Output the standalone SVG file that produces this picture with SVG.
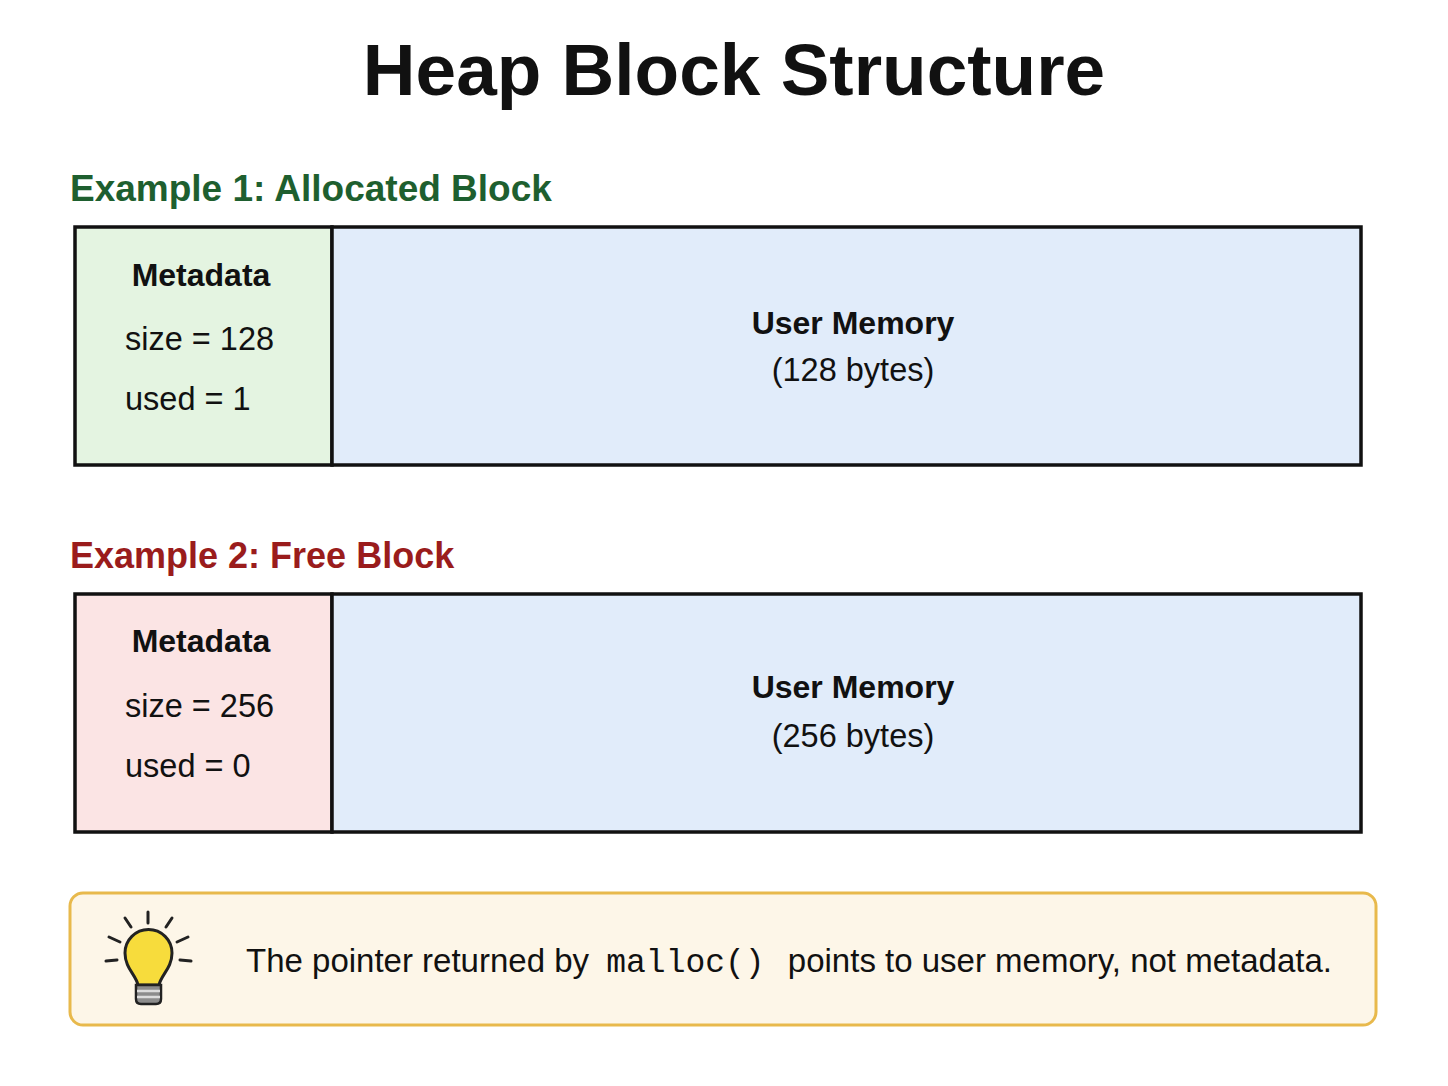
<svg xmlns="http://www.w3.org/2000/svg" width="1448" height="1086" viewBox="0 0 1448 1086">
<style>
text { font-family: "Liberation Sans", Arial, sans-serif; fill: #111; }
.title { font-size: 73px; font-weight: bold; }
.h { font-size: 36px; font-weight: bold; }
.b { font-size: 32px; font-weight: bold; }
.r { font-size: 32.5px; }
.note { font-size: 33px; }
.mono { font-family: "Liberation Mono", "Courier New", monospace; font-size: 33px; }
.box { stroke: #111; stroke-width: 3.5; }
.ray { stroke: #222; stroke-width: 3; stroke-linecap: round; }
</style>
<rect width="1448" height="1086" fill="#ffffff"/>
<text class="title" x="734" y="95" text-anchor="middle">Heap Block Structure</text>

<g id="example1">
<text class="h" x="70" y="201" style="fill:#1e5f2f;font-size:37px">Example 1: Allocated Block</text>
<g id="meta1">
<rect class="box" x="75" y="227" width="257" height="238" fill="#e4f4e1"/>
<text class="b" x="201" y="286" text-anchor="middle">Metadata</text>
<text class="r" x="125" y="350">size = 128</text>
<text class="r" x="125" y="410">used = 1</text>
</g>
<g id="user1">
<rect class="box" x="332" y="227" width="1029" height="238" fill="#e1ecfa"/>
<text class="b" x="853" y="334" text-anchor="middle">User Memory</text>
<text class="r" x="853" y="381" text-anchor="middle">(128 bytes)</text>
</g>
</g>

<g id="example2">
<text class="h" x="70" y="568" style="fill:#9a1c1c">Example 2: Free Block</text>
<g id="meta2">
<rect class="box" x="75" y="594" width="257" height="238" fill="#fbe4e4"/>
<text class="b" x="201" y="652" text-anchor="middle">Metadata</text>
<text class="r" x="125" y="717">size = 256</text>
<text class="r" x="125" y="777">used = 0</text>
</g>
<g id="user2">
<rect class="box" x="332" y="594" width="1029" height="238" fill="#e1ecfa"/>
<text class="b" x="853" y="698" text-anchor="middle">User Memory</text>
<text class="r" x="853" y="747" text-anchor="middle">(256 bytes)</text>
</g>
</g>

<g id="note">
<rect x="70" y="893" width="1306" height="132" rx="13" fill="#fdf6e8" stroke="#e8b94c" stroke-width="3"/>
<g id="bulb">
<line class="ray" x1="148" y1="912" x2="148" y2="923"/>
<line class="ray" x1="125" y1="918" x2="131" y2="927"/>
<line class="ray" x1="172" y1="918" x2="166" y2="927"/>
<line class="ray" x1="109" y1="937" x2="120" y2="942"/>
<line class="ray" x1="188" y1="937" x2="177" y2="942"/>
<line class="ray" x1="106" y1="961" x2="117" y2="960"/>
<line class="ray" x1="180" y1="960" x2="191" y2="961"/>
<path d="M138 985 C 136 975 125 968 125 953 A 23.5 23.5 0 1 1 172 953 C 172 968 161 975 159 985 Z" fill="#f7dc3c" stroke="#222" stroke-width="3" stroke-linejoin="round"/>
<path d="M136 985 H161 V999 Q161 1004 156 1004 H141 Q136 1004 136 999 Z" fill="#8c8c8c" stroke="#222" stroke-width="2.5"/>
<line x1="137" y1="991" x2="160" y2="991" stroke="#dcdcdc" stroke-width="2.5"/>
<line x1="137" y1="997" x2="160" y2="997" stroke="#dcdcdc" stroke-width="2.5"/>
</g>
<text class="note" x="246" y="972">The pointer returned by <tspan class="mono" dx="8">malloc()</tspan><tspan dx="14"> points to user memory, not metadata.</tspan></text>
</g>
</svg>
